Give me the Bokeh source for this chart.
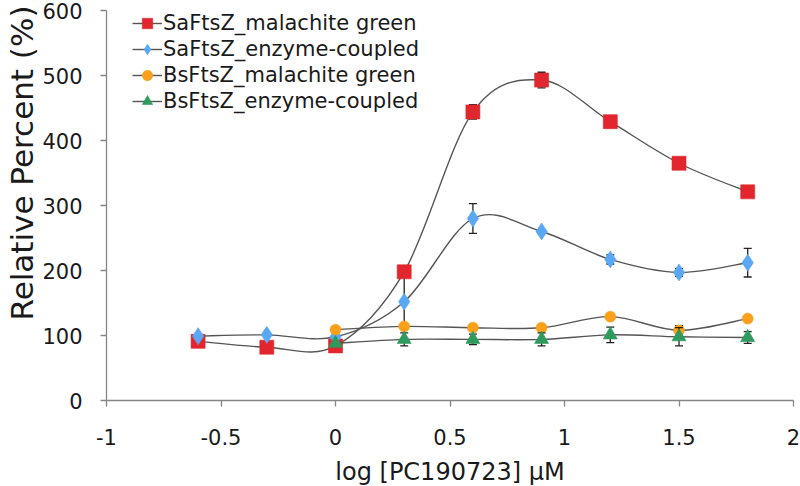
import numpy as np
from bokeh.plotting import figure
from bokeh.models import ColumnDataSource, Legend, LegendItem, FixedTicker, Range1d, Title
from bokeh.embed import file_html
from bokeh.resources import INLINE

# ---- data ----
x_all = [-0.6, -0.3, 0.0, 0.3, 0.6, 0.9, 1.2, 1.5, 1.8]
x_bs = [0.0, 0.3, 0.6, 0.9, 1.2, 1.5, 1.8]

sa_mg = [91, 82, 84, 198, 444, 493, 429, 365, 321]
sa_mg_up = [0, 0, 0, 0, 11, 12, 7, 7, 5]
sa_mg_lo = [0, 0, 0, 85, 11, 12, 7, 7, 5]

sa_ec = [99, 101, 98, 152, 280, 260, 217, 197, 212]
sa_ec_up = [0, 0, 0, 0, 23, 3, 7, 6, 22]
sa_ec_lo = [0, 0, 0, 0, 23, 3, 7, 6, 22]

bs_mg = [109, 114, 112, 112, 129, 108, 126]
bs_mg_up = [0, 0, 0, 0, 0, 7, 0]
bs_mg_lo = [0, 0, 0, 0, 0, 7, 0]

bs_ec = [88, 94, 94, 94, 101, 98, 97]
bs_ec_up = [0, 10, 8, 10, 12, 14, 9]
bs_ec_lo = [0, 10, 8, 10, 12, 14, 9]

names = ["SaFtsZ_malachite green", "SaFtsZ_enzyme-coupled",
         "BsFtsZ_malachite green", "BsFtsZ_enzyme-coupled"]
x_ticks = [-1, -0.5, 0, 0.5, 1, 1.5, 2]
x_tick_labels = ["-1", "-0.5", "0", "0.5", "1", "1.5", "2"]
y_ticks = [0, 100, 200, 300, 400, 500, 600]
x_title = "log [PC190723] μM"
y_title = "Relative Percent (%)"

FONT = "DejaVu Sans"
LINE_C = "#555555"
TXT_C = "#1a1a1a"

p = figure(width=800, height=486, output_backend="svg", toolbar_location=None,
           x_range=Range1d(-1, 2), y_range=Range1d(0, 600),
           min_border_left=106, min_border_right=7, min_border_top=10, min_border_bottom=86)
p.frame_width = 687
p.frame_height = 390
p.outline_line_color = None
p.xgrid.visible = False
p.ygrid.visible = False

for ax in (p.xaxis[0], p.yaxis[0]):
    ax.axis_line_color = "#868686"
    ax.axis_line_width = 1.3
    ax.major_tick_line_color = "#868686"
    ax.major_tick_line_width = 1.3
    ax.major_tick_out = 6
    ax.major_tick_in = 0
    ax.minor_tick_line_color = None
    ax.major_label_text_font = FONT
    ax.major_label_text_font_size = "21px"
    ax.major_label_text_color = TXT_C
    ax.axis_label_text_font = FONT
    ax.axis_label_text_font_style = "normal"
    ax.axis_label_text_color = TXT_C

p.xaxis.ticker = FixedTicker(ticks=x_ticks)
p.xaxis.major_label_overrides = {t: s for t, s in zip(x_ticks, x_tick_labels)}
p.yaxis.ticker = FixedTicker(ticks=y_ticks)
p.xaxis.axis_label = x_title
p.xaxis.axis_label_text_font_size = "24px"
p.xaxis.major_label_standoff = 22
p.xaxis.axis_label_standoff = 10
p.yaxis.major_label_standoff = 18

# rotated y title, shifted upward like the reference
p.add_layout(Title(text=y_title, align="left", offset=80, standoff=0,
                   vertical_align="bottom",
                   text_font=FONT, text_font_size="31px", text_font_style="normal",
                   text_color=TXT_C), "left")


def smooth_bezier(xs, ys):
    xs = np.asarray(xs, float)
    ys = np.asarray(ys, float)
    n = len(xs)
    px = np.concatenate([[xs[0]], xs, [xs[-1]]])
    py = np.concatenate([[ys[0]], ys, [ys[-1]]])
    d = dict(x0=[], y0=[], x1=[], y1=[], cx0=[], cy0=[], cx1=[], cy1=[])
    for i in range(n - 1):
        a, b, c, e = i, i + 1, i + 2, i + 3
        d["x0"].append(px[b]); d["y0"].append(py[b])
        d["x1"].append(px[c]); d["y1"].append(py[c])
        d["cx0"].append(px[b] + (px[c] - px[a]) / 6)
        d["cy0"].append(py[b] + (py[c] - py[a]) / 6)
        d["cx1"].append(px[c] - (px[e] - px[b]) / 6)
        d["cy1"].append(py[c] - (py[e] - py[b]) / 6)
    return d


series = [
    (x_all, sa_mg, sa_mg_up, sa_mg_lo, "square", "#E1262D", 14),
    (x_all, sa_ec, sa_ec_up, sa_ec_lo, "diamond", "#5AA7F4", 17),
    (x_bs, bs_mg, bs_mg_up, bs_mg_lo, "circle", "#FBA01B", 11),
    (x_bs, bs_ec, bs_ec_up, bs_ec_lo, "triangle", "#2F9A5E", 14),
]

items = []
for (xs, ys, up, lo, marker, color, size), name in zip(series, names):
    p.bezier(source=ColumnDataSource(smooth_bezier(xs, ys)),
             x0="x0", y0="y0", x1="x1", y1="y1", cx0="cx0", cy0="cy0", cx1="cx1", cy1="cy1",
             line_color=LINE_C, line_width=1.4)
    src = ColumnDataSource(dict(x=xs, y=ys))
    ex = [xx for xx, u, l in zip(xs, up, lo) if u or l]
    eu = [v + u for v, u, l in zip(ys, up, lo) if u or l]
    el = [v - l for v, u, l in zip(ys, up, lo) if u or l]
    eu_cap = [v + u for v, u in zip(ys, up) if u]
    ex_cap_u = [xx for xx, u in zip(xs, up) if u]
    el_cap = [v - l for v, l in zip(ys, lo) if l]
    ex_cap_l = [xx for xx, l in zip(xs, lo) if l]
    if ex:
        p.segment(x0=ex, y0=el, x1=ex, y1=eu, line_color="#222222", line_width=1.3)
        p.scatter(x=ex_cap_u, y=eu_cap, marker="dash", size=8, line_color="#222222", line_width=1.3)
        p.scatter(x=ex_cap_l, y=el_cap, marker="dash", size=8, line_color="#222222", line_width=1.3)
    sc = p.scatter(x="x", y="y", source=src, marker=marker, size=size,
                   fill_color=color, line_color=color, line_alpha=0.6)
    leg_line = p.line(x=[np.nan], y=[np.nan], line_color=LINE_C, line_width=1.4)
    items.append(LegendItem(label=name, renderers=[leg_line, sc]))

legend = Legend(items=items, location=(26, 286), orientation="vertical",
                border_line_color=None, background_fill_alpha=0,
                label_text_font=FONT, label_text_font_size="21px", label_text_color=TXT_C,
                glyph_width=30, glyph_height=26, label_height=26, spacing=0,
                label_standoff=1, padding=0, margin=0)
p.add_layout(legend, "center")

open("out.html", "w").write(file_html(p, INLINE))
